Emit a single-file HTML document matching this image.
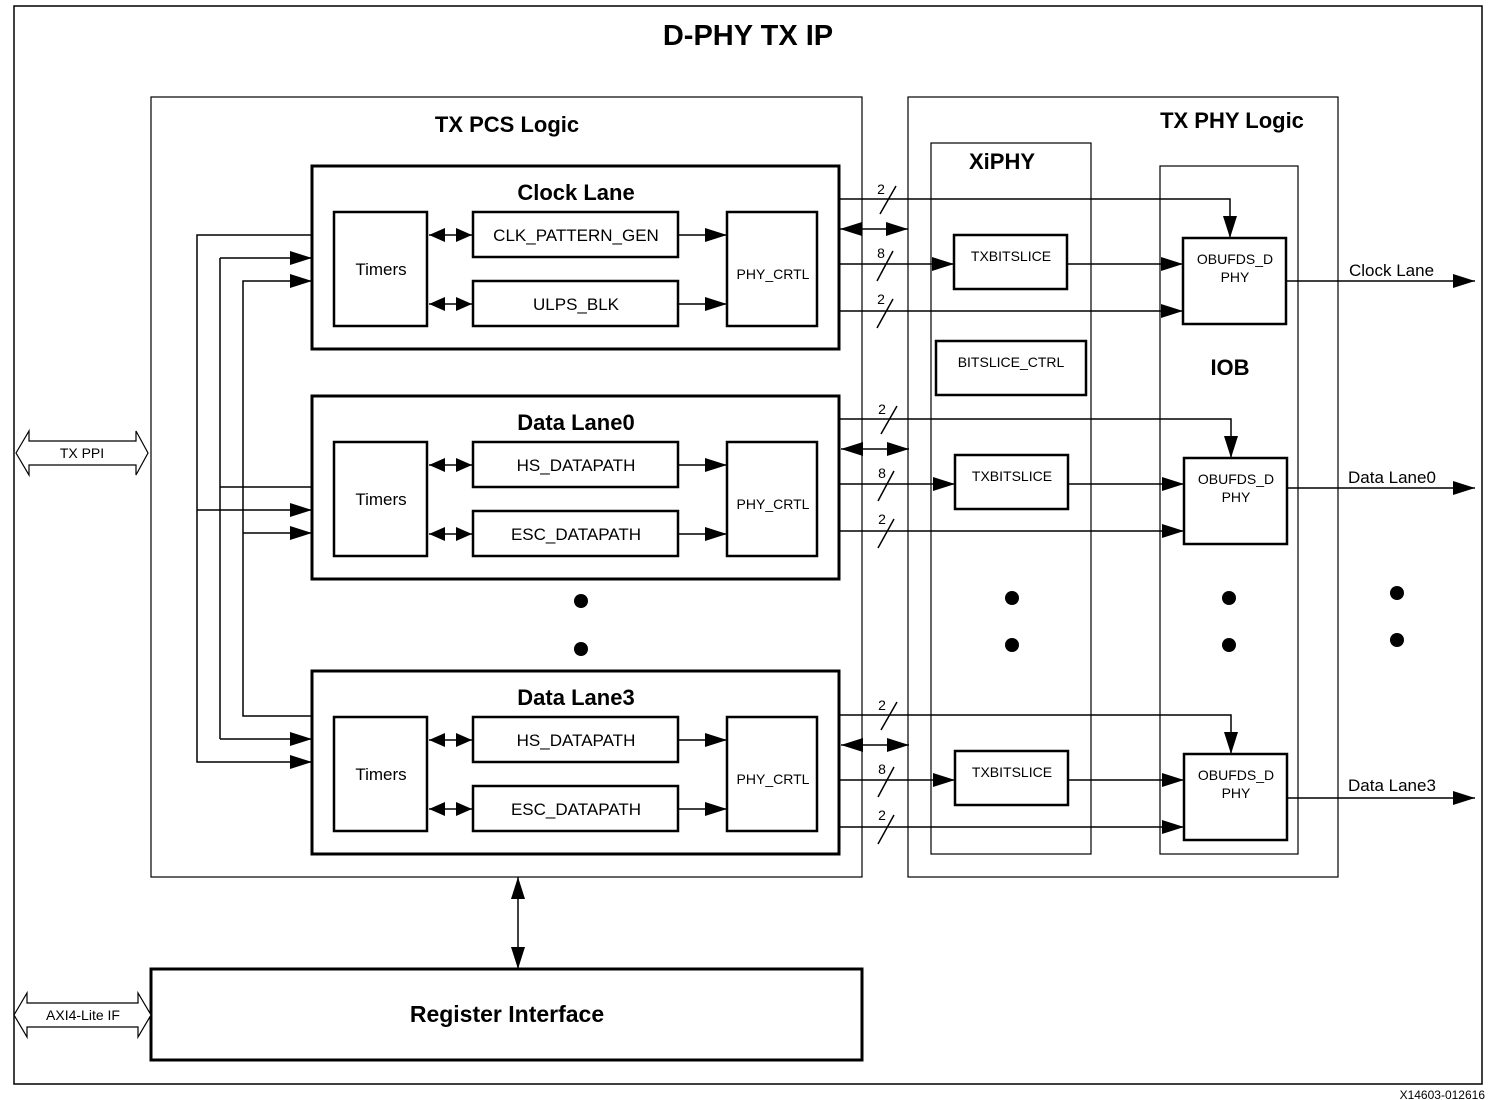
<!DOCTYPE html>
<html><head><meta charset="utf-8"><style>
html,body{margin:0;padding:0;background:#fff}
svg{display:block;font-family:"Liberation Sans",sans-serif}
</style></head><body>
<svg width="1490" height="1100" viewBox="0 0 1490 1100" xmlns="http://www.w3.org/2000/svg">
<defs>
<marker id="a" markerUnits="userSpaceOnUse" markerWidth="22" markerHeight="14" refX="22" refY="7" orient="auto-start-reverse"><path d="M0,0 L22,7 L0,14 Z" fill="#000"/></marker>
<marker id="s" markerUnits="userSpaceOnUse" markerWidth="16" markerHeight="14" refX="16" refY="7" orient="auto-start-reverse"><path d="M0,0 L16,7 L0,14 Z" fill="#000"/></marker>
</defs>
<rect width="1490" height="1100" fill="#fff"/>
<g fill="none" stroke="#000">
<rect x="14" y="6" width="1468" height="1078" stroke-width="1.5"/>
<rect x="151" y="97" width="711" height="780" stroke-width="1.2"/>
<rect x="908" y="97" width="430" height="780" stroke-width="1.2"/>
<rect x="931" y="143" width="160" height="711" stroke-width="1.2"/>
<rect x="1160" y="166" width="138" height="688" stroke-width="1.2"/>
<rect x="151" y="969" width="711" height="91" stroke-width="3"/>
<rect x="936" y="341" width="150" height="54" stroke-width="2.5"/>
</g>
<text x="748" y="45" font-size="29" font-weight="bold" text-anchor="middle">D-PHY TX IP</text>
<text x="507" y="132" font-size="22" font-weight="bold" text-anchor="middle">TX PCS Logic</text>
<text x="1232" y="128" font-size="22" font-weight="bold" text-anchor="middle">TX PHY Logic</text>
<text x="1002" y="169" font-size="22" font-weight="bold" text-anchor="middle">XiPHY</text>
<text x="1230" y="375" font-size="22" font-weight="bold" text-anchor="middle">IOB</text>
<text x="1011" y="367" font-size="14" text-anchor="middle">BITSLICE_CTRL</text>
<text x="507" y="1022" font-size="23" font-weight="bold" text-anchor="middle">Register Interface</text>
<text x="1485" y="1099" font-size="12" text-anchor="end">X14603-012616</text>

<path d="M16,453 L29,431 L29,441 L136,441 L136,431 L148,453 L136,475 L136,465 L29,465 L29,475 Z" fill="#fff" stroke="#000" stroke-width="1.2"/>
<text x="82" y="458" font-size="14" text-anchor="middle">TX PPI</text>
<path d="M14,1015 L27,993 L27,1003 L138,1003 L138,993 L151,1015 L138,1037 L138,1027 L27,1027 L27,1037 Z" fill="#fff" stroke="#000" stroke-width="1.2"/>
<text x="83" y="1020" font-size="14" text-anchor="middle">AXI4-Lite IF</text>
<line x1="518" y1="877" x2="518" y2="969" stroke="#000" stroke-width="1.5" marker-start="url(#a)" marker-end="url(#a)"/>

<g stroke="#000" stroke-width="1.5" fill="none">
<polyline points="312,235 197,235 197,762 312,762" marker-end="url(#a)"/>
<polyline points="312,487 220,487"/>
<polyline points="220,258 312,258" marker-end="url(#a)"/>
<line x1="220" y1="258" x2="220" y2="739"/>
<polyline points="220,739 312,739" marker-end="url(#a)"/>
<polyline points="312,716 243,716 243,281 312,281" marker-end="url(#a)"/>
<line x1="197" y1="510" x2="312" y2="510" marker-end="url(#a)"/>
<line x1="243" y1="533" x2="312" y2="533" marker-end="url(#a)"/>
</g>

<g id="lane">
<rect x="312" y="166" width="527" height="183" fill="none" stroke="#000" stroke-width="3"/>
<rect x="334" y="212" width="93" height="114" fill="none" stroke="#000" stroke-width="2.5"/>
<rect x="473" y="212" width="205" height="45" fill="none" stroke="#000" stroke-width="2.5"/>
<rect x="473" y="281" width="205" height="45" fill="none" stroke="#000" stroke-width="2.5"/>
<rect x="727" y="212" width="90" height="114" fill="none" stroke="#000" stroke-width="2.5"/>
<text x="381" y="275" font-size="17" text-anchor="middle">Timers</text>
<text x="773" y="279" font-size="14" text-anchor="middle">PHY_CRTL</text>
<g stroke="#000" stroke-width="1.5">
<line x1="429" y1="235" x2="472" y2="235" marker-start="url(#s)" marker-end="url(#s)"/>
<line x1="429" y1="304" x2="472" y2="304" marker-start="url(#s)" marker-end="url(#s)"/>
<line x1="679" y1="235" x2="727" y2="235" marker-end="url(#a)"/>
<line x1="679" y1="304" x2="727" y2="304" marker-end="url(#a)"/>
</g>
</g>
<use href="#lane" y="230"/>
<use href="#lane" y="505"/>
<text x="576" y="200" font-size="22" font-weight="bold" text-anchor="middle">Clock Lane</text>
<text x="576" y="430" font-size="22" font-weight="bold" text-anchor="middle">Data Lane0</text>
<text x="576" y="705" font-size="22" font-weight="bold" text-anchor="middle">Data Lane3</text>
<g font-size="17" text-anchor="middle">
<text x="576" y="241">CLK_PATTERN_GEN</text><text x="576" y="310">ULPS_BLK</text>
<text x="576" y="471">HS_DATAPATH</text><text x="576" y="540">ESC_DATAPATH</text>
<text x="576" y="746">HS_DATAPATH</text><text x="576" y="815">ESC_DATAPATH</text>
</g>

<g id="rs">
<rect x="954" y="235" width="113" height="54" fill="none" stroke="#000" stroke-width="2.5"/>
<rect x="1183" y="238" width="103" height="86" fill="none" stroke="#000" stroke-width="2.5"/>
<text x="1011" y="261" font-size="14" text-anchor="middle">TXBITSLICE</text>
<text x="1235" y="264" font-size="14" text-anchor="middle">OBUFDS_D</text>
<text x="1235" y="282" font-size="14" text-anchor="middle">PHY</text>
<g stroke="#000" stroke-width="1.5" fill="none">
<polyline points="839,199 1230,199 1230,238" marker-end="url(#a)"/>
<line x1="840" y1="229" x2="908" y2="229" marker-start="url(#a)" marker-end="url(#a)"/>
<line x1="839" y1="264" x2="954" y2="264" marker-end="url(#a)"/>
<line x1="1067" y1="264" x2="1183" y2="264" marker-end="url(#a)"/>
<line x1="839" y1="311" x2="1183" y2="311" marker-end="url(#a)"/>
<line x1="880" y1="214" x2="896" y2="186"/>
<line x1="877" y1="281" x2="893" y2="251"/>
<line x1="877" y1="328" x2="893" y2="299"/>
</g>
<g font-size="14" text-anchor="middle"><text x="881" y="194">2</text><text x="881" y="258">8</text><text x="881" y="304">2</text></g>
</g>
<use href="#rs" x="1" y="220"/>
<use href="#rs" x="1" y="516"/>
<g stroke="#000" stroke-width="1.5">
<line x1="1286" y1="281" x2="1475" y2="281" marker-end="url(#a)"/>
<line x1="1287" y1="488" x2="1475" y2="488" marker-end="url(#a)"/>
<line x1="1287" y1="798" x2="1475" y2="798" marker-end="url(#a)"/>
</g>
<g font-size="17"><text x="1349" y="276">Clock Lane</text><text x="1348" y="483">Data Lane0</text><text x="1348" y="791">Data Lane3</text></g>

<g fill="#000">
<circle cx="581" cy="601" r="7"/><circle cx="581" cy="649" r="7"/>
<circle cx="1012" cy="598" r="7"/><circle cx="1012" cy="645" r="7"/>
<circle cx="1229" cy="598" r="7"/><circle cx="1229" cy="645" r="7"/>
<circle cx="1397" cy="593" r="7"/><circle cx="1397" cy="640" r="7"/>
</g>
</svg>
</body></html>
